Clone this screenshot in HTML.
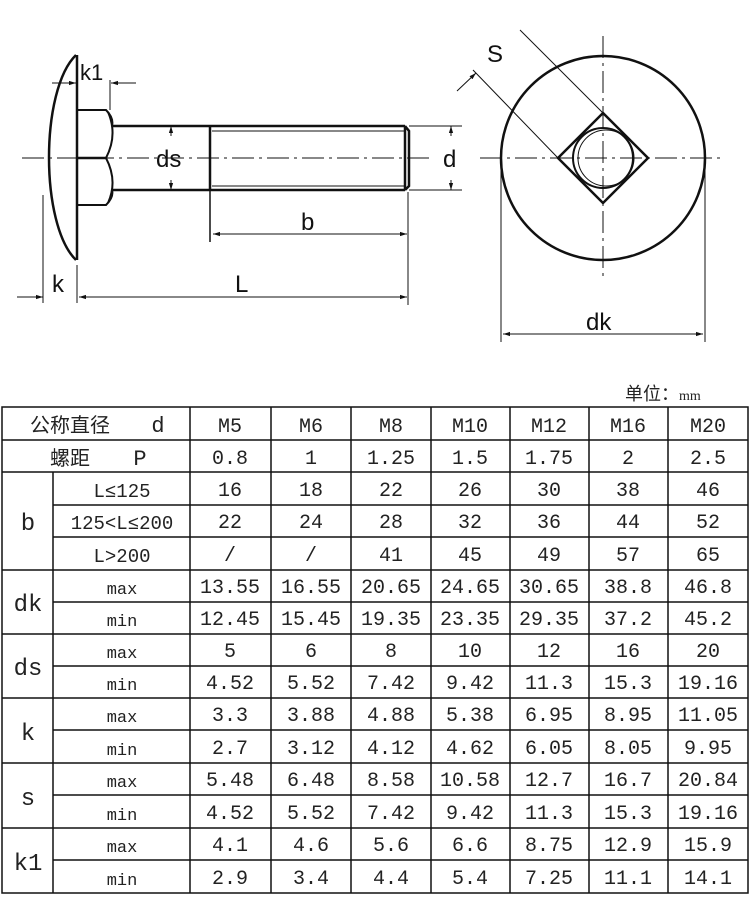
<!DOCTYPE html>
<html><head><meta charset="utf-8"><style>
html,body{margin:0;padding:0;background:#fff;}
svg{display:block}
text{font-family:"Liberation Mono","Noto Sans CJK SC",monospace;fill:#222;}
.d{font-family:"Liberation Sans",sans-serif;font-size:24px;fill:#111}
</style></head><body>
<svg width="750" height="900" viewBox="0 0 750 900" xmlns="http://www.w3.org/2000/svg">
<defs>
<marker id="a" viewBox="0 0 10 10" refX="10" refY="5" markerWidth="7" markerHeight="7" orient="auto-start-reverse"><path d="M0,2 L10,5 L0,8z" fill="#111"/></marker>
</defs>
<g stroke="#111" fill="none">
<path d="M76,55 C40,90 40,225 76,260" stroke-width="2.5"/>
<line x1="77" y1="55" x2="77" y2="260" stroke-width="2.5"/>
<path d="M77,110 L106,110 Q114,118 112,126 M77,205 L106,205 Q114,197 112,190" stroke-width="2"/>
<path d="M108,112 Q118,135 106,158 Q118,181 108,203" stroke-width="2"/>
<line x1="77" y1="158" x2="106" y2="158" stroke-width="2.5"/>
<line x1="112" y1="126" x2="405" y2="126" stroke-width="2.5"/>
<line x1="112" y1="190" x2="405" y2="190" stroke-width="2.5"/>
<line x1="212" y1="131" x2="405" y2="131" stroke-width="1"/>
<line x1="212" y1="186" x2="405" y2="186" stroke-width="1"/>
<line x1="210" y1="126" x2="210" y2="242" stroke-width="1.5"/>
<line x1="210" y1="126" x2="210" y2="190" stroke-width="2.5"/>
<path d="M405,126 L409,131 L409,186 L405,190 M405,126 L405,190" stroke-width="2.5"/>
<line x1="22" y1="158" x2="430" y2="158" stroke-width="1" stroke-dasharray="22,5,3,5"/>
<line x1="409" y1="126" x2="462" y2="126" stroke-width="1"/>
<line x1="409" y1="190" x2="462" y2="190" stroke-width="1"/>
<line x1="451" y1="136" x2="451" y2="126" stroke-width="1" marker-end="url(#a)"/>
<line x1="451" y1="180" x2="451" y2="190" stroke-width="1" marker-end="url(#a)"/>
<line x1="171" y1="136" x2="171" y2="126" stroke-width="1" marker-end="url(#a)"/>
<line x1="171" y1="180" x2="171" y2="190" stroke-width="1" marker-end="url(#a)"/>
<line x1="213" y1="234" x2="407" y2="234" stroke-width="1" marker-start="url(#a)" marker-end="url(#a)"/>
<line x1="408" y1="192" x2="408" y2="305" stroke-width="1"/>
<line x1="77" y1="265" x2="77" y2="303" stroke-width="1"/>
<line x1="43" y1="195" x2="43" y2="303" stroke-width="1"/>
<line x1="17" y1="297" x2="43" y2="297" stroke-width="1" marker-end="url(#a)"/>
<line x1="79" y1="297" x2="407" y2="297" stroke-width="1" marker-start="url(#a)" marker-end="url(#a)"/>
<line x1="52" y1="83" x2="76" y2="83" stroke-width="1" marker-end="url(#a)"/>
<line x1="136" y1="83" x2="111" y2="83" stroke-width="1" marker-end="url(#a)"/>
<line x1="110" y1="80" x2="110" y2="110" stroke-width="1"/>
<circle cx="603" cy="158" r="102" stroke-width="2.5"/>
<path d="M603,113 L648,158 L603,203 L558,158 Z" stroke-width="2.5"/>
<circle cx="603" cy="158" r="30" stroke-width="2"/>
<circle cx="606" cy="158" r="28" stroke-width="1"/>
<line x1="603" y1="36" x2="603" y2="280" stroke-width="1" stroke-dasharray="22,5,3,5"/>
<line x1="480" y1="158" x2="725" y2="158" stroke-width="1" stroke-dasharray="22,5,3,5"/>
<line x1="603" y1="113" x2="520" y2="30" stroke-width="1"/>
<line x1="558" y1="158" x2="473" y2="70" stroke-width="1"/>
<line x1="457" y1="91" x2="476" y2="73" stroke-width="1" marker-end="url(#a)"/>
<line x1="501" y1="160" x2="501" y2="342" stroke-width="1"/>
<line x1="705" y1="160" x2="705" y2="342" stroke-width="1"/>
<line x1="503" y1="334" x2="703" y2="334" stroke-width="1" marker-start="url(#a)" marker-end="url(#a)"/>
</g>
<text class="d" x="80" y="80" style="font-size:22px">k1</text>
<text class="d" x="156" y="167">ds</text>
<text class="d" x="443" y="167">d</text>
<text class="d" x="301" y="230">b</text>
<text class="d" x="52" y="292">k</text>
<text class="d" x="235" y="292">L</text>
<text class="d" x="487" y="62">S</text>
<text class="d" x="586" y="330">dk</text>
<text x="625" y="400" style="font-family:'Noto Sans CJK SC',sans-serif;font-size:18px">单位：<tspan style="font-family:'Liberation Serif',serif;font-size:14px">mm</tspan></text>
<g stroke="#111" stroke-width="1.5">
<rect x="2" y="407" width="746" height="486" fill="none"/>
<line x1="53" y1="472" x2="53" y2="893"/>
<line x1="190" y1="407" x2="190" y2="893"/>
<line x1="271" y1="407" x2="271" y2="893"/>
<line x1="351" y1="407" x2="351" y2="893"/>
<line x1="431" y1="407" x2="431" y2="893"/>
<line x1="510" y1="407" x2="510" y2="893"/>
<line x1="589" y1="407" x2="589" y2="893"/>
<line x1="668" y1="407" x2="668" y2="893"/>
<line x1="2" y1="440" x2="748" y2="440"/>
<line x1="2" y1="472" x2="748" y2="472"/>
<line x1="53" y1="505" x2="748" y2="505"/>
<line x1="53" y1="537" x2="748" y2="537"/>
<line x1="2" y1="570" x2="748" y2="570"/>
<line x1="53" y1="602" x2="748" y2="602"/>
<line x1="2" y1="634" x2="748" y2="634"/>
<line x1="53" y1="666" x2="748" y2="666"/>
<line x1="2" y1="698" x2="748" y2="698"/>
<line x1="53" y1="730" x2="748" y2="730"/>
<line x1="2" y1="763" x2="748" y2="763"/>
<line x1="53" y1="795" x2="748" y2="795"/>
<line x1="2" y1="828" x2="748" y2="828"/>
<line x1="53" y1="860" x2="748" y2="860"/>
</g>
<g font-size="19" text-anchor="middle">
<text x="70" y="432" style="font-family:'Noto Sans CJK SC',sans-serif;font-size:20px">公称直径</text><text x="158" y="432" font-size="22">d</text>
<text x="70" y="465" style="font-family:'Noto Sans CJK SC',sans-serif;font-size:20px">螺距</text><text x="140" y="465" font-size="22">P</text>
<text x="28" y="530" font-size="24">b</text>
<text x="122" y="497">L≤125</text>
<text x="122" y="529">125&lt;L≤200</text>
<text x="122" y="562">L&gt;200</text>
<text x="28" y="611" font-size="24">dk</text>
<text x="28" y="675" font-size="24">ds</text>
<text x="28" y="740" font-size="24">k</text>
<text x="28" y="805" font-size="24">s</text>
<text x="28" y="870" font-size="24">k1</text>
<g font-size="17"><text x="122" y="594">max</text><text x="122" y="626">min</text><text x="122" y="658">max</text><text x="122" y="690">min</text><text x="122" y="722">max</text><text x="122" y="755">min</text><text x="122" y="787">max</text><text x="122" y="820">min</text><text x="122" y="852">max</text><text x="122" y="885">min</text></g>
<g font-size="20">
<text x="230" y="432">M5</text><text x="311" y="432">M6</text><text x="391" y="432">M8</text><text x="470" y="432">M10</text><text x="549" y="432">M12</text><text x="628" y="432">M16</text><text x="708" y="432">M20</text>
<text x="230" y="464">0.8</text><text x="311" y="464">1</text><text x="391" y="464">1.25</text><text x="470" y="464">1.5</text><text x="549" y="464">1.75</text><text x="628" y="464">2</text><text x="708" y="464">2.5</text>
<text x="230" y="496">16</text><text x="311" y="496">18</text><text x="391" y="496">22</text><text x="470" y="496">26</text><text x="549" y="496">30</text><text x="628" y="496">38</text><text x="708" y="496">46</text>
<text x="230" y="528">22</text><text x="311" y="528">24</text><text x="391" y="528">28</text><text x="470" y="528">32</text><text x="549" y="528">36</text><text x="628" y="528">44</text><text x="708" y="528">52</text>
<text x="230" y="561">/</text><text x="311" y="561">/</text><text x="391" y="561">41</text><text x="470" y="561">45</text><text x="549" y="561">49</text><text x="628" y="561">57</text><text x="708" y="561">65</text>
<text x="230" y="593">13.55</text><text x="311" y="593">16.55</text><text x="391" y="593">20.65</text><text x="470" y="593">24.65</text><text x="549" y="593">30.65</text><text x="628" y="593">38.8</text><text x="708" y="593">46.8</text>
<text x="230" y="625">12.45</text><text x="311" y="625">15.45</text><text x="391" y="625">19.35</text><text x="470" y="625">23.35</text><text x="549" y="625">29.35</text><text x="628" y="625">37.2</text><text x="708" y="625">45.2</text>
<text x="230" y="657">5</text><text x="311" y="657">6</text><text x="391" y="657">8</text><text x="470" y="657">10</text><text x="549" y="657">12</text><text x="628" y="657">16</text><text x="708" y="657">20</text>
<text x="230" y="689">4.52</text><text x="311" y="689">5.52</text><text x="391" y="689">7.42</text><text x="470" y="689">9.42</text><text x="549" y="689">11.3</text><text x="628" y="689">15.3</text><text x="708" y="689">19.16</text>
<text x="230" y="721">3.3</text><text x="311" y="721">3.88</text><text x="391" y="721">4.88</text><text x="470" y="721">5.38</text><text x="549" y="721">6.95</text><text x="628" y="721">8.95</text><text x="708" y="721">11.05</text>
<text x="230" y="754">2.7</text><text x="311" y="754">3.12</text><text x="391" y="754">4.12</text><text x="470" y="754">4.62</text><text x="549" y="754">6.05</text><text x="628" y="754">8.05</text><text x="708" y="754">9.95</text>
<text x="230" y="786">5.48</text><text x="311" y="786">6.48</text><text x="391" y="786">8.58</text><text x="470" y="786">10.58</text><text x="549" y="786">12.7</text><text x="628" y="786">16.7</text><text x="708" y="786">20.84</text>
<text x="230" y="819">4.52</text><text x="311" y="819">5.52</text><text x="391" y="819">7.42</text><text x="470" y="819">9.42</text><text x="549" y="819">11.3</text><text x="628" y="819">15.3</text><text x="708" y="819">19.16</text>
<text x="230" y="851">4.1</text><text x="311" y="851">4.6</text><text x="391" y="851">5.6</text><text x="470" y="851">6.6</text><text x="549" y="851">8.75</text><text x="628" y="851">12.9</text><text x="708" y="851">15.9</text>
<text x="230" y="884">2.9</text><text x="311" y="884">3.4</text><text x="391" y="884">4.4</text><text x="470" y="884">5.4</text><text x="549" y="884">7.25</text><text x="628" y="884">11.1</text><text x="708" y="884">14.1</text>
</g>
</g>
</svg>
</body></html>
